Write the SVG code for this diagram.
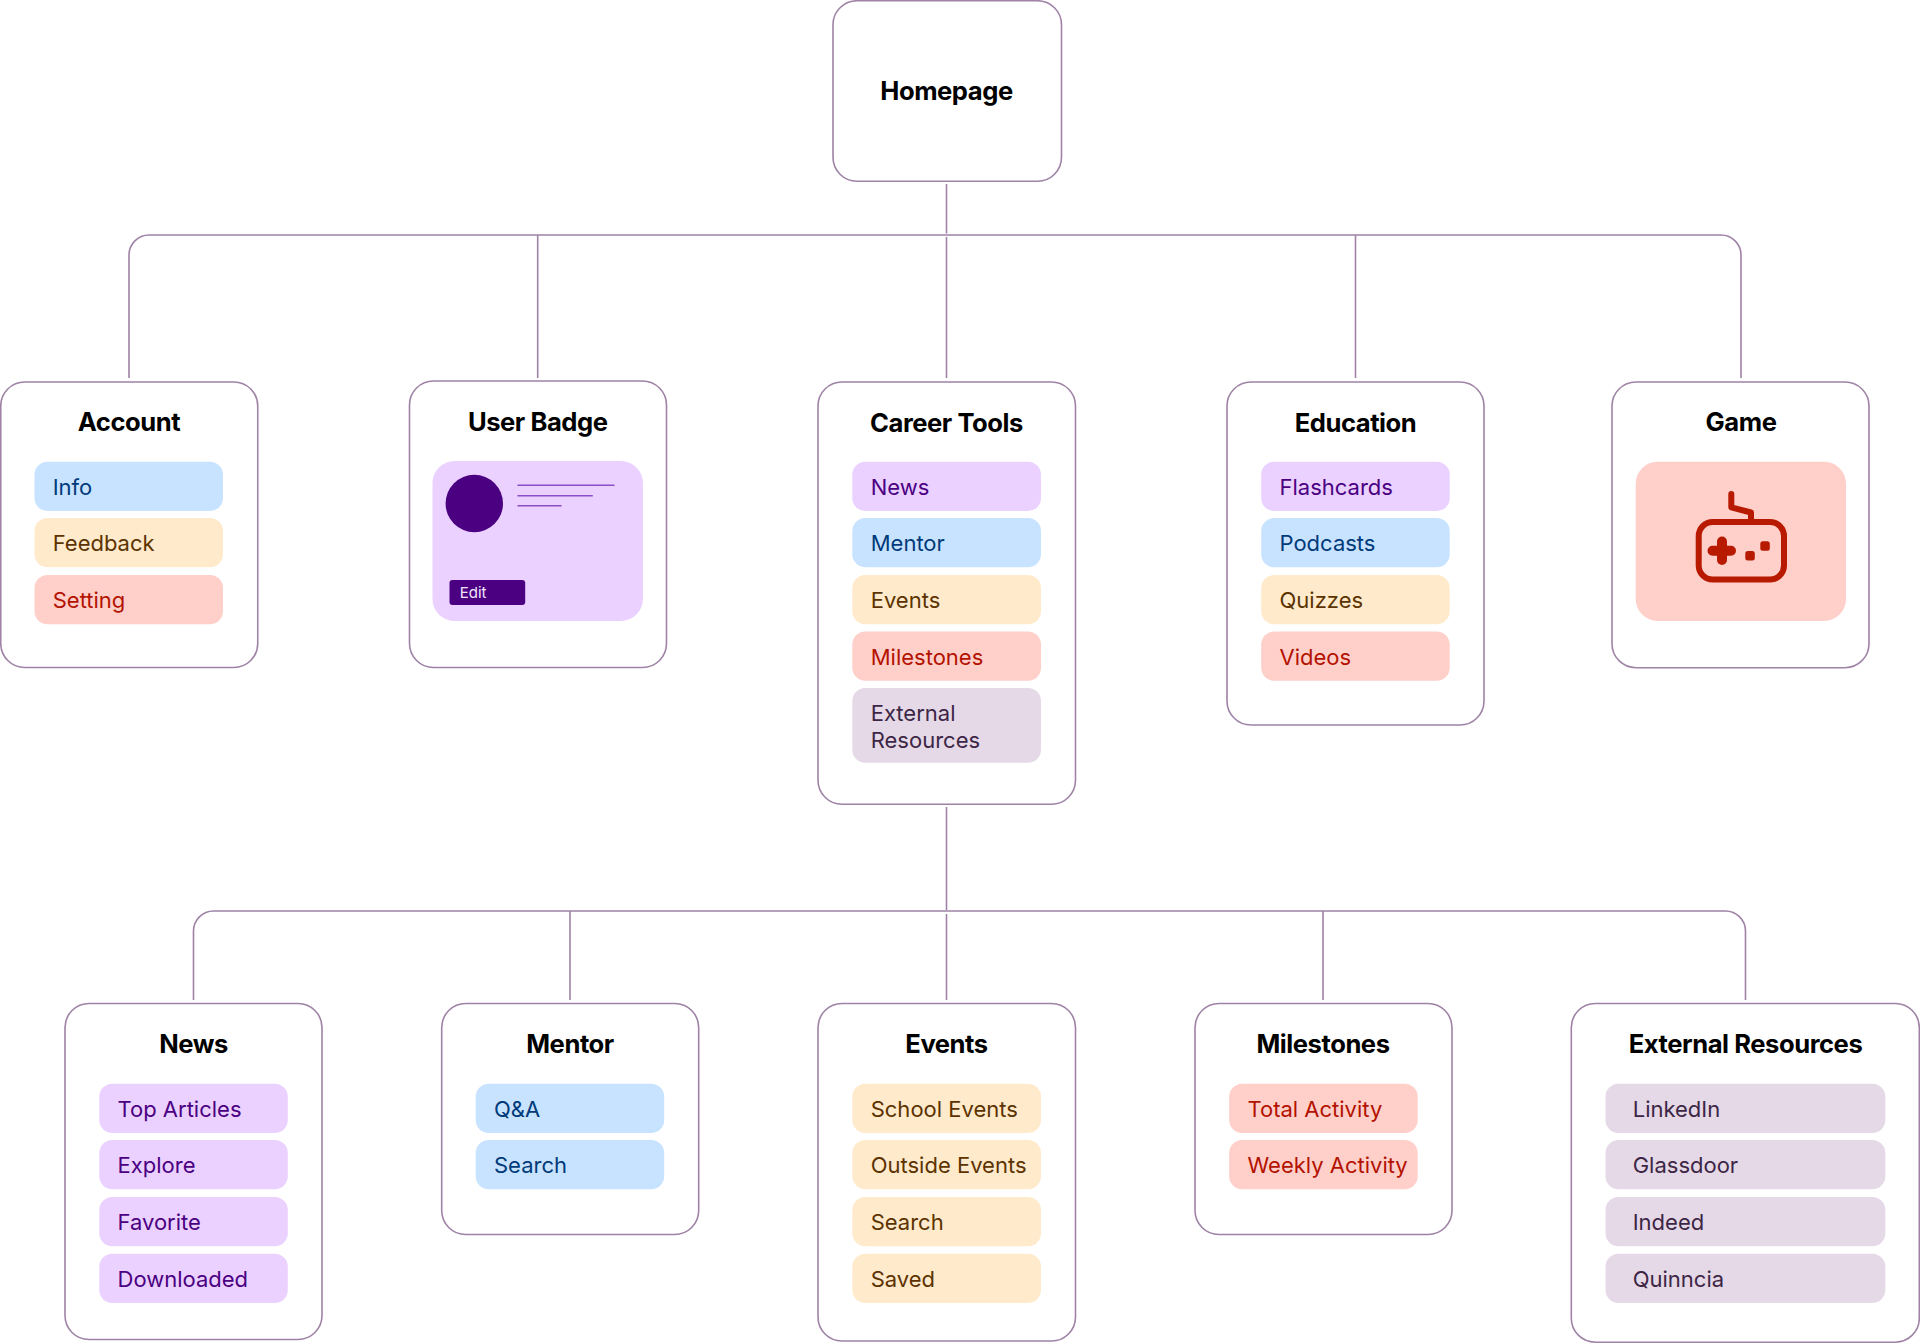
<svg xmlns="http://www.w3.org/2000/svg" width="1920" height="1343" viewBox="0 0 1920 1343">
<style>
.card{fill:#fff;stroke:#9F83A6;stroke-width:1.6}
.conn{fill:none;stroke:#9F83A6;stroke-width:1.6}
.t{font-family:"Inter","Liberation Sans",sans-serif;font-size:25.6px;font-weight:700;fill:#000;text-anchor:middle;letter-spacing:-0.45px}
.i{font-family:"Inter","Liberation Sans",sans-serif;font-size:22px;font-weight:400}
.bl rect{fill:#C8E3FF}.bl text{fill:#003A7A}
.or rect{fill:#FFEACC}.or text{fill:#5C3300}
.re rect{fill:#FFCFCA}.re text{fill:#B31200}
.pu rect{fill:#EAD1FF}.pu text{fill:#4B0082}
.ma rect{fill:#E5D9E7}.ma text{fill:#3D2645}
.bar{stroke:#8A4FC7;stroke-width:1.5}
</style>
<g id="connectors" class="conn">
<path d="M946.5 184V233.5M946.5 237V378"/>
<path d="M129 378V255a20 20 0 0 1 20-20H1721a20 20 0 0 1 20 20V378"/>
<path d="M537.7 235V378M1355.5 235V378"/>
<path d="M946.5 807V910M946.5 914V1000"/>
<path d="M193.5 1000V931a20 20 0 0 1 20-20H1725.5a20 20 0 0 1 20 20V1000"/>
<path d="M570 911V1000M1323 911V1000"/>
</g>
<g id="homepage"><rect class="card" x="833" y="0.75" width="228.5" height="180.5" rx="24"/><text class="t" x="946.5" y="100">Homepage</text></g>
<g id="account"><rect class="card" x="0.75" y="382" width="257" height="285.5" rx="24"/><text class="t" x="129" y="431">Account</text>
<g class="bl"><rect x="34.5" y="461.7" width="188.5" height="49.3" rx="13"/><text class="i" x="52.7" y="494.5">Info</text></g>
<g class="or"><rect x="34.5" y="518" width="188.5" height="49.3" rx="13"/><text class="i" x="52.7" y="551">Feedback</text></g>
<g class="re"><rect x="34.5" y="575" width="188.5" height="49.3" rx="13"/><text class="i" x="52.7" y="608">Setting</text></g></g>
<g id="user-badge"><rect class="card" x="409.5" y="381" width="257" height="286.5" rx="24"/><text class="t" x="537.7" y="431">User Badge</text>
<rect x="432.5" y="461" width="210.4" height="160" rx="22" fill="#EAD1FF"/>
<circle cx="474.3" cy="503.5" r="28.7" fill="#4B0082"/>
<path class="bar" d="M517.5 485.3H614.5M517.5 495.7H592.8M517.5 505.7H561.6"/>
<rect x="449.5" y="580" width="75.7" height="25" rx="3" fill="#4B0082"/>
<text x="459.7" y="598" font-family="Inter,'Liberation Sans',sans-serif" font-size="15" fill="#F3E6FF">Edit</text></g>
<g id="career-tools"><rect class="card" x="818" y="382" width="257.5" height="422.3" rx="24"/><text class="t" x="946.5" y="432">Career Tools</text>
<g class="pu"><rect x="852.3" y="461.7" width="188.7" height="49.3" rx="13"/><text class="i" x="870.7" y="494.5">News</text></g>
<g class="bl"><rect x="852.3" y="518" width="188.7" height="49.3" rx="13"/><text class="i" x="870.7" y="551">Mentor</text></g>
<g class="or"><rect x="852.3" y="575" width="188.7" height="49.3" rx="13"/><text class="i" x="870.7" y="608">Events</text></g>
<g class="re"><rect x="852.3" y="631.5" width="188.7" height="49.3" rx="13"/><text class="i" x="870.7" y="664.5">Milestones</text></g>
<g class="ma"><rect x="852.3" y="688" width="188.7" height="74.8" rx="13"/><text class="i" x="870.7" y="721">External</text><text class="i" x="870.7" y="747.7">Resources</text></g></g>
<g id="education"><rect class="card" x="1227" y="382" width="257" height="343" rx="24"/><text class="t" x="1355.5" y="432">Education</text>
<g class="pu"><rect x="1261.2" y="461.7" width="188.5" height="49.3" rx="13"/><text class="i" x="1279.5" y="494.5">Flashcards</text></g>
<g class="bl"><rect x="1261.2" y="518" width="188.5" height="49.3" rx="13"/><text class="i" x="1279.5" y="551">Podcasts</text></g>
<g class="or"><rect x="1261.2" y="575" width="188.5" height="49.3" rx="13"/><text class="i" x="1279.5" y="608">Quizzes</text></g>
<g class="re"><rect x="1261.2" y="631.5" width="188.5" height="49.3" rx="13"/><text class="i" x="1279.5" y="664.5">Videos</text></g></g>
<g id="game"><rect class="card" x="1612" y="382" width="257" height="285.7" rx="24"/><text class="t" x="1741" y="431">Game</text>
<rect x="1635.7" y="461.7" width="210.3" height="159.3" rx="22" fill="#FFCFCA"/>
<g fill="none" stroke="#B81A00" stroke-width="6" stroke-linecap="round" stroke-linejoin="round"><rect x="1698.7" y="522" width="85.3" height="57.5" rx="14"/><path d="M1731.3 494V507.3L1751 512.5V521"/></g>
<path d="M1722 541.5V560M1712.5 550.7H1731" fill="none" stroke="#B81A00" stroke-width="10" stroke-linecap="round"/>
<rect x="1745.3" y="551" width="9.5" height="9.5" rx="2.5" fill="#B81A00"/><rect x="1760.3" y="541.3" width="9.5" height="9.5" rx="2.5" fill="#B81A00"/></g>
<g id="news"><rect class="card" x="65" y="1003.5" width="257" height="336" rx="24"/><text class="t" x="193.5" y="1053">News</text>
<g class="pu"><rect x="99.3" y="1083.7" width="188.5" height="49.3" rx="13"/><text class="i" x="117.5" y="1116.5">Top Articles</text></g>
<g class="pu"><rect x="99.3" y="1140" width="188.5" height="49.3" rx="13"/><text class="i" x="117.5" y="1173">Explore</text></g>
<g class="pu"><rect x="99.3" y="1197" width="188.5" height="49.3" rx="13"/><text class="i" x="117.5" y="1230">Favorite</text></g>
<g class="pu"><rect x="99.3" y="1253.7" width="188.5" height="49.3" rx="13"/><text class="i" x="117.5" y="1286.5">Downloaded</text></g></g>
<g id="mentor"><rect class="card" x="441.7" y="1003.5" width="257" height="231" rx="24"/><text class="t" x="570" y="1053">Mentor</text>
<g class="bl"><rect x="475.7" y="1083.7" width="188.5" height="49.3" rx="13"/><text class="i" x="494" y="1116.5">Q&amp;A</text></g>
<g class="bl"><rect x="475.7" y="1140" width="188.5" height="49.3" rx="13"/><text class="i" x="494" y="1173">Search</text></g></g>
<g id="events"><rect class="card" x="818" y="1003.5" width="257.5" height="337.5" rx="24"/><text class="t" x="946.5" y="1053">Events</text>
<g class="or"><rect x="852.3" y="1083.7" width="188.7" height="49.3" rx="13"/><text class="i" x="870.7" y="1116.5">School Events</text></g>
<g class="or"><rect x="852.3" y="1140" width="188.7" height="49.3" rx="13"/><text class="i" x="870.7" y="1173">Outside Events</text></g>
<g class="or"><rect x="852.3" y="1197" width="188.7" height="49.3" rx="13"/><text class="i" x="870.7" y="1230">Search</text></g>
<g class="or"><rect x="852.3" y="1253.7" width="188.7" height="49.3" rx="13"/><text class="i" x="870.7" y="1286.5">Saved</text></g></g>
<g id="milestones"><rect class="card" x="1195" y="1003.5" width="257" height="231" rx="24"/><text class="t" x="1323" y="1053">Milestones</text>
<g class="re"><rect x="1229.2" y="1083.7" width="188.5" height="49.3" rx="13"/><text class="i" x="1247.5" y="1116.5">Total Activity</text></g>
<g class="re"><rect x="1229.2" y="1140" width="188.5" height="49.3" rx="13"/><text class="i" x="1247.5" y="1173">Weekly Activity</text></g></g>
<g id="external-resources"><rect class="card" x="1571.3" y="1003.5" width="348" height="338.7" rx="24"/><text class="t" x="1745.5" y="1053">External Resources</text>
<g class="ma"><rect x="1605.5" y="1083.7" width="279.8" height="49.3" rx="13"/><text class="i" x="1632.7" y="1116.5">LinkedIn</text></g>
<g class="ma"><rect x="1605.5" y="1140" width="279.8" height="49.3" rx="13"/><text class="i" x="1632.7" y="1173">Glassdoor</text></g>
<g class="ma"><rect x="1605.5" y="1197" width="279.8" height="49.3" rx="13"/><text class="i" x="1632.7" y="1230">Indeed</text></g>
<g class="ma"><rect x="1605.5" y="1253.7" width="279.8" height="49.3" rx="13"/><text class="i" x="1632.7" y="1286.5">Quinncia</text></g></g>
</svg>
